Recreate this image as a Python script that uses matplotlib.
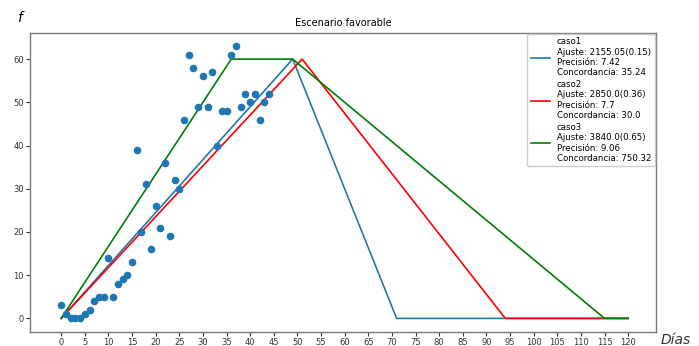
import matplotlib
matplotlib.use("Agg")
import matplotlib.pyplot as plt
import numpy as np

# Observed data
dias = list(range(0, 45))
casos = [3, 1, 0, 0, 0, 1, 2, 4, 5, 5,
         14, 5, 8, 9, 10, 13, 39, 20, 31, 16,
         26, 21, 36, 19, 32, 30, 46, 61, 58, 49,
         56, 49, 57, 40, 48, 48, 61, 63, 49, 52,
         50, 52, 46, 50, 52]

# Model curves
caso1_x = [0, 49, 71, 120]
caso1_y = [0, 60, 0, 0]
caso2_x = [0, 51, 94, 120]
caso2_y = [0, 60, 0, 0]
caso3_x = [0, 36, 49, 115, 120]
caso3_y = [0, 60, 60, 0, 0]

labels = [
    "caso1\nAjuste: 2155.05(0.15)\nPrecisión: 7.42\nConcordancia: 35.24",
    "caso2\nAjuste: 2850.0(0.36)\nPrecisión: 7.7\nConcordancia: 30.0",
    "caso3\nAjuste: 3840.0(0.65)\nPrecisión: 9.06\nConcordancia: 750.32",
]

fig = plt.figure(figsize=(6.99, 3.46), dpi=100)
ax = fig.add_axes([0.0429, 0.0405, 0.8956, 0.8655])

ax.scatter(dias, casos, s=20, color="#1f77b4", zorder=3)
ax.plot(caso1_x, caso1_y, color="#1f77b4", lw=1.2, label=labels[0])
ax.plot(caso2_x, caso2_y, color="red", lw=1.2, label=labels[1])
ax.plot(caso3_x, caso3_y, color="green", lw=1.2, label=labels[2])

ax.set_xlim(-6.6, 125.9)
ax.set_ylim(-3.15, 66.15)
ax.set_xticks(np.arange(0, 121, 5))
ax.set_yticks(np.arange(0, 61, 10))
ax.tick_params(labelsize=6, colors="#333333", length=3, pad=1.5)
for s in ax.spines.values():
    s.set_color("#777777")
    s.set_linewidth(1.0)

ax.set_title("Escenario favorable", fontsize=7, pad=5)
leg = ax.legend(loc="upper right", fontsize=6.2, handlelength=2.2,
                labelspacing=0.3, borderaxespad=0.15, framealpha=1)
fig.text(0.025, 0.935, "f", fontsize=10, style="italic")
fig.text(0.945, 0.005, "Días", fontsize=10, style="italic", color="#333333")

fig.savefig("out.png", dpi=100)
